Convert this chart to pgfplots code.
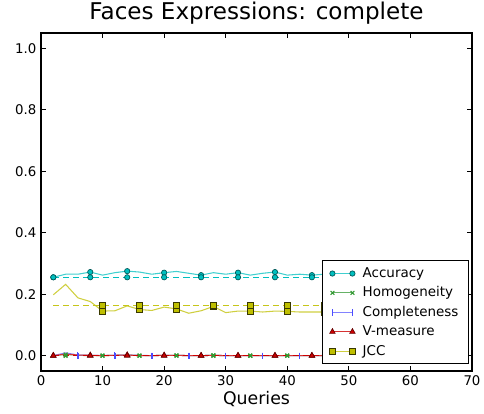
\documentclass[border=0pt]{standalone}
\usepackage{fontspec}
\setmainfont{DejaVu Sans}
\usepackage{pgfplots}
\pgfplotsset{compat=1.18}
\definecolor{mcyan}{rgb}{0,0.75,0.75}
\definecolor{mgreen}{rgb}{0,0.5,0}
\definecolor{mblue}{rgb}{0.3,0.3,1}
\definecolor{mred}{rgb}{0.8,0,0}
\definecolor{myellow}{rgb}{0.75,0.75,0}
\pgfplotstableread{
x acc hom com vm jcc
2 0.255 0.000 0.000 0.000 0.198
4 0.265 0.004 0.009 0.005 0.232
6 0.265 0.001 0.002 0.002 0.188
8 0.272 0.000 0.001 0.001 0.176
10 0.262 0.000 0.001 0.000 0.145
12 0.270 0.001 0.001 0.001 0.146
14 0.275 0.002 0.002 0.002 0.162
16 0.272 0.000 0.001 0.000 0.150
18 0.265 0.000 0.000 0.000 0.147
20 0.270 0.001 0.001 0.001 0.158
22 0.274 0.001 0.001 0.001 0.152
24 0.268 0.000 0.000 0.000 0.138
26 0.262 0.000 0.000 0.000 0.146
28 0.270 0.001 0.001 0.001 0.160
30 0.265 0.000 0.000 0.000 0.140
32 0.270 0.000 0.000 0.000 0.145
34 0.262 0.000 0.000 0.000 0.145
36 0.268 0.000 0.000 0.000 0.142
38 0.272 0.000 0.000 0.000 0.145
40 0.262 0.000 0.000 0.000 0.144
42 0.265 0.000 0.000 0.000 0.142
44 0.262 0.000 0.000 0.000 0.142
46 0.265 0.000 0.000 0.000 0.142
48 0.263 0.000 0.000 0.000 0.142
}\data
\pgfplotstableread{
x acc hom com vm jcc
2 0.255 0 0 0 0.163
4 0.255 0 0 0 0.163
6 0.255 0 0 0 0.163
8 0.255 0 0 0 0.163
10 0.255 0 0 0 0.163
12 0.255 0 0 0 0.163
14 0.255 0 0 0 0.163
16 0.255 0 0 0 0.163
18 0.255 0 0 0 0.163
20 0.255 0 0 0 0.163
22 0.255 0 0 0 0.163
24 0.255 0 0 0 0.163
26 0.255 0 0 0 0.163
28 0.255 0 0 0 0.163
30 0.255 0 0 0 0.163
32 0.255 0 0 0 0.163
34 0.255 0 0 0 0.163
36 0.255 0 0 0 0.163
38 0.255 0 0 0 0.163
40 0.255 0 0 0 0.163
42 0.255 0 0 0 0.163
44 0.255 0 0 0 0.163
46 0.255 0 0 0 0.163
48 0.255 0 0 0 0.163
}\base
\begin{document}
\begin{tikzpicture}
\path[use as bounding box] (-30.75pt,-31.5pt) rectangle (332.25pt,278.25pt);
\begin{axis}[
  at={(0,0)}, anchor=south west,
  scale only axis, width=323.25pt, height=253.5pt,
  xmin=0, xmax=70, ymin=-0.05, ymax=1.05,
  xtick={0,10,...,70}, ytick={0,0.2,0.4,0.6,0.8,1.0},
  yticklabel style={/pgf/number format/.cd, fixed, fixed zerofill, precision=1},
  /pgf/number format/assume math mode=true,
  tick label style={font=\fontsize{10}{12}\selectfont},
  tick align=inside, major tick length=4pt,
  xtick pos=both, ytick pos=both,
  axis line style={black, line width=0.8pt},
  every tick/.style={black, line width=0.6pt},
  title={Faces Expressions: complete},
  title style={font=\fontsize{17.3}{20}\selectfont, at={(0.5,1)}, anchor=base, yshift=4pt},
  xlabel={Queries},
  xlabel style={font=\fontsize{13}{15}\selectfont, at={(0.5,0)}, anchor=base, yshift=-24.75pt},
  legend style={at={(0.993,0.02)}, anchor=south east, draw=black, line width=0.8pt,
    font=\fontsize{10.1}{12}\selectfont, row sep=1.5pt, inner ysep=3pt, inner xsep=5.5pt, fill=white,
    /tikz/every odd column/.append style={column sep=3.5pt}},
  legend cell align=left,
  legend image code/.code={\draw[mark repeat=2,mark phase=1,#1] plot coordinates {(0pt,0pt) (7.5pt,0pt) (15pt,0pt)};},
  every axis plot/.append style={line width=0.8pt},
  bl/.style={dash pattern=on 4.5pt off 3pt, line width=1.1pt},
]
% Accuracy
\addplot[mcyan!75, mark=*, mark size=2pt, mark repeat=3, mark phase=1,
  mark options={solid, fill=mcyan, draw=black!55!mcyan, line width=0.5pt}] table[x=x,y=acc]{\data};
\addlegendentry{Accuracy}
% Homogeneity
\addplot[mgreen!60, mark=x, mark size=2pt, mark repeat=3, mark phase=2,
  mark options={solid, draw=mgreen!80}] table[x=x,y=hom]{\data};
\addlegendentry{Homogeneity}
% Completeness
\addplot[mblue!70, mark=|, mark size=2.3pt, mark repeat=3, mark phase=3,
  mark options={solid, draw=mblue}] table[x=x,y=com]{\data};
\addlegendentry{Completeness}
% V-measure
\addplot[mred!80, mark=triangle*, mark size=2.4pt, mark repeat=3, mark phase=1,
  mark options={solid, fill=mred, draw=black!50!mred, line width=0.5pt}] table[x=x,y=vm]{\data};
\addlegendentry{V-measure}
% JCC
\addplot[myellow!75, mark=square*, mark size=2.2pt, mark repeat=3, mark phase=5,
  mark options={solid, fill=myellow, draw=black!70!myellow, line width=0.5pt}] table[x=x,y=jcc]{\data};
\addlegendentry{JCC}
% baselines
\addplot[mcyan, bl, forget plot, mark=*, mark size=2pt, mark repeat=3, mark phase=1,
  mark options={solid, fill=mcyan, draw=black!55!mcyan, line width=0.5pt}] table[x=x,y=acc]{\base};
\addplot[mgreen!80, bl, forget plot, mark=x, mark size=2pt, mark repeat=3, mark phase=2,
  mark options={solid, draw=mgreen!80}] table[x=x,y=hom]{\base};
\addplot[mblue, bl, forget plot, mark=|, mark size=2.3pt, mark repeat=3, mark phase=3,
  mark options={solid, draw=mblue}] table[x=x,y=com]{\base};
\addplot[mred, bl, forget plot, mark=triangle*, mark size=2.4pt, mark repeat=3, mark phase=1,
  mark options={solid, fill=mred, draw=black!50!mred, line width=0.5pt}] table[x=x,y=vm]{\base};
\addplot[myellow!90!white, bl, forget plot, mark=square*, mark size=2.2pt, mark repeat=3, mark phase=5,
  mark options={solid, fill=myellow, draw=black!70!myellow, line width=0.5pt}] table[x=x,y=jcc]{\base};
\end{axis}
\end{tikzpicture}
\end{document}
